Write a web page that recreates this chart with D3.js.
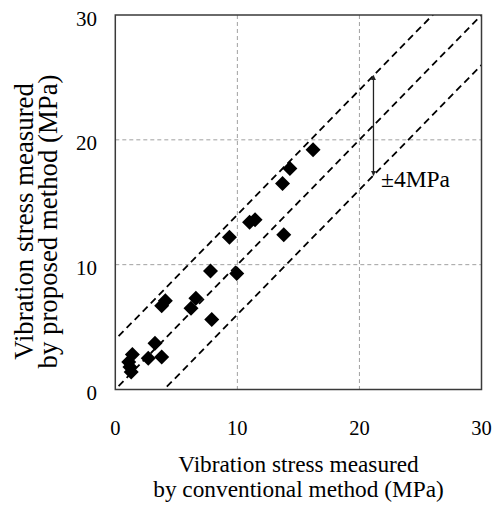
<!DOCTYPE html>
<html>
<head>
<meta charset="utf-8">
<script src="https://cdn.jsdelivr.net/npm/d3@7"></script>
</head>
<body style="margin:0;background:#fff">
<svg id="chart" width="494" height="506"></svg>
<script>
// Data (MPa): x = conventional method, y = proposed method
const conventional = [1.4, 1.1, 1.2, 1.3, 2.7, 3.25, 3.8, 3.8, 4.1, 6.2, 6.6, 7.9, 7.8, 9.95, 9.35, 11.0, 11.45, 13.8, 13.7, 14.3, 16.2];
const proposed     = [2.8, 2.2, 1.8, 1.4, 2.5, 3.7, 2.6, 6.7, 7.1, 6.5, 7.3, 5.6, 9.5, 9.3, 12.2, 13.4, 13.6, 12.4, 16.5, 17.7, 19.2];
const xTicks = [0, 10, 20, 30];
const yTicks = [0, 10, 20, 30];
const gridValues = [10, 20];
const offsets = [4, 0, -4];      // reference lines y = x + offset
const arrowX = 21.15;            // position of ±4MPa arrow
const arrowLabel = "±4MPa";
const xTitle = ["Vibration stress measured", "by conventional method (MPa)"];
const yTitle = ["Vibration stress measured", "by proposed method (MPa)"];

const FONT = '"Liberation Serif", monospace';
const svg = d3.select("#chart");
const L = 115.3, R = 481.5, T = 15, B = 389.5;
const x = d3.scaleLinear().domain([0, 30]).range([L, R]);
const y = d3.scaleLinear().domain([0, 30]).range([B, T]);

const defs = svg.append("defs");
defs.append("clipPath").attr("id", "clip")
  .append("rect").attr("x", L).attr("y", T).attr("width", R - L).attr("height", B - T);

// grid
const grid = svg.append("g");
grid.selectAll(".gx").data(gridValues).join("line")
  .attr("x1", d => x(d)).attr("x2", d => x(d)).attr("y1", T).attr("y2", B)
  .attr("stroke", "#a0a0a0").attr("stroke-width", 1).attr("stroke-dasharray", "4,3");
grid.selectAll(".gy").data(gridValues).join("line")
  .attr("y1", d => y(d)).attr("y2", d => y(d)).attr("x1", L).attr("x2", R)
  .attr("stroke", "#a0a0a0").attr("stroke-width", 1).attr("stroke-dasharray", "4,3");

// reference lines
const refs = svg.append("g").attr("clip-path", "url(#clip)");
refs.selectAll("line").data(offsets).join("line")
  .attr("x1", d => x(-5)).attr("y1", d => y(-5 + d))
  .attr("x2", d => x(35)).attr("y2", d => y(35 + d))
  .attr("stroke", "#000").attr("stroke-width", 1.8).attr("stroke-dasharray", "7,4.5");

// points
const pts = conventional.map((c, i) => [c, proposed[i]]);
const s = 7.5;
svg.append("g").selectAll("path").data(pts).join("path")
  .attr("d", d => `M${x(d[0])},${y(d[1]) - s}L${x(d[0]) + s},${y(d[1])}L${x(d[0])},${y(d[1]) + s}L${x(d[0]) - s},${y(d[1])}Z`)
  .attr("fill", "#000");

// frame
svg.append("rect").attr("x", L).attr("y", T).attr("width", R - L).attr("height", B - T)
  .attr("fill", "none").attr("stroke", "#3a3a3a").attr("stroke-width", 1.5);

// arrow
defs.append("marker").attr("id", "ah").attr("viewBox", "0 0 10 10").attr("refX", 9).attr("refY", 5)
  .attr("markerWidth", 5).attr("markerHeight", 6).attr("orient", "auto-start-reverse")
  .attr("markerUnits", "userSpaceOnUse")
  .append("path").attr("d", "M0,0L10,5L0,10Z").attr("fill", "#222");
svg.append("line")
  .attr("x1", x(arrowX)).attr("x2", x(arrowX))
  .attr("y1", y(arrowX + 4)).attr("y2", y(arrowX - 4))
  .attr("stroke", "#222").attr("stroke-width", 1.3)
  .attr("marker-start", "url(#ah)").attr("marker-end", "url(#ah)");
svg.append("text").attr("font-family", FONT)
  .attr("x", 381).attr("y", 186.5).attr("font-size", 23.5).text(arrowLabel);

// tick labels
svg.append("g").selectAll("text").data(xTicks).join("text").attr("font-family", FONT)
  .attr("x", d => x(d)).attr("y", 435).attr("text-anchor", "middle")
  .attr("font-size", 20.5).text(d => d);
svg.append("g").selectAll("text").data(yTicks).join("text").attr("font-family", FONT)
  .attr("x", 97).attr("y", d => y(d) + 10.5).attr("text-anchor", "end")
  .attr("font-size", 21).text(d => d);

// axis titles
const xt = svg.append("text").attr("font-family", FONT).attr("text-anchor", "middle").attr("font-size", 23.3);
xt.selectAll("tspan").data(xTitle).join("tspan")
  .attr("x", 298.5).attr("y", (d, i) => 471.5 + i * 25).text(d => d);

const yt = svg.append("text").attr("font-family", FONT).attr("text-anchor", "middle").attr("font-size", 26.8)
  .attr("transform", "translate(0,221.5) rotate(-90)");
yt.selectAll("tspan").data(yTitle).join("tspan")
  .attr("x", 0).attr("y", (d, i) => 33 + i * 24).text(d => d);
</script>
</body>
</html>
